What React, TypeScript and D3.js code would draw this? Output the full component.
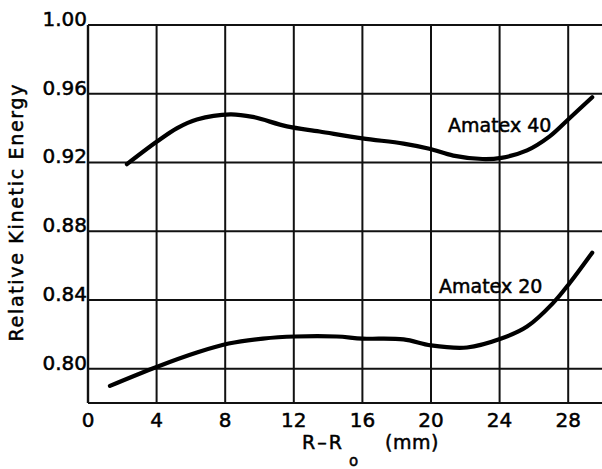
import React from "react";
import * as d3 from "d3";

const xTicks = [0, 4, 8, 12, 16, 20, 24, 28];
const yTicks = [0.8, 0.84, 0.88, 0.92, 0.96, 1.0];
const yTickLabels = ["0.80", "0.84", "0.88", "0.92", "0.96", "1.00"];

const a40X = [2.27, 4, 5.2, 6.35, 8.3, 9.6, 11.6, 13.5, 16, 18.4, 19.9, 21.3, 23, 24.1, 25.6, 26.9, 28, 29.4];
const a40Y = [0.919, 0.932, 0.94, 0.945, 0.948, 0.9465, 0.941, 0.938, 0.934, 0.931, 0.928, 0.924, 0.922, 0.9227, 0.927, 0.935, 0.945, 0.958];

const a20X = [1.28, 4, 6.35, 8.2, 10.2, 12.1, 14.5, 16, 18.4, 20, 22.1, 24.1, 25.6, 27.1, 28.1, 29.4];
const a20Y = [0.79, 0.801, 0.8094, 0.8146, 0.8175, 0.8187, 0.8187, 0.8175, 0.817, 0.8135, 0.8123, 0.8175, 0.8245, 0.838, 0.85, 0.8675];

const W = 602;
const H = 469;
const FONT = "'DejaVu Sans', sans-serif";

export default function App() {
  const x = d3.scaleLinear().domain([0, 30]).range([88, 602.5]);
  const y = d3.scaleLinear().domain([0.78, 1.0]).range([403, 25]);
  const line = d3
    .line<[number, number]>()
    .x((d) => x(d[0]))
    .y((d) => y(d[1]))
    .curve(d3.curveCatmullRom.alpha(0.5));
  const d40 = line(a40X.map((v, i) => [v, a40Y[i]]) as [number, number][]) || "";
  const d20 = line(a20X.map((v, i) => [v, a20Y[i]]) as [number, number][]) || "";

  const txt = { fill: "#000", stroke: "#000", strokeWidth: 0.5 };

  return (
    <svg
      width={W}
      height={H}
      style={{ position: "absolute", left: 0, top: 0, background: "#fff" }}
      fontFamily={FONT}
    >
      <rect x={0} y={0} width={W} height={H} fill="#fff" />
      {xTicks.map((t) => (
        <line key={"vx" + t} x1={x(t)} x2={x(t)} y1={y(1.0)} y2={y(0.78)} stroke="#111" strokeWidth={2} />
      ))}
      {yTicks.map((t) => (
        <line key={"hy" + t} x1={x(0)} x2={W} y1={y(t)} y2={y(t)} stroke="#111" strokeWidth={2} />
      ))}
      <line x1={x(0)} x2={W} y1={y(0.78)} y2={y(0.78)} stroke="#111" strokeWidth={2.2} />
      <line x1={x(0)} x2={x(0)} y1={y(1.0)} y2={y(0.78)} stroke="#111" strokeWidth={2.4} />

      <path d={d40} fill="none" stroke="#000" strokeWidth={4.2} strokeLinecap="round" />
      <path d={d20} fill="none" stroke="#000" strokeWidth={4.2} strokeLinecap="round" />

      {yTicks.map((t, i) => (
        <text key={"yl" + t} x={87} y={y(t) + 1} textAnchor="end" fontSize={20} {...txt}>
          {yTickLabels[i]}
        </text>
      ))}
      {xTicks.map((t) => (
        <text key={"xl" + t} x={x(t)} y={427} textAnchor="middle" fontSize={20} {...txt}>
          {String(t)}
        </text>
      ))}

      <text x={448} y={132} fontSize={19} {...txt}>Amatex 40</text>
      <text x={439} y={293} fontSize={19} {...txt}>Amatex 20</text>

      <text
        transform="translate(23,213) rotate(-90)"
        textAnchor="middle"
        fontSize={19}
        textLength={257}
        lengthAdjust="spacing"
        {...txt}
      >
        Relative Kinetic Energy
      </text>
      <text x={302} y={449} fontSize={19} letterSpacing={2} {...txt}>R–R</text>
      <text x={349} y={466} fontSize={15} {...txt}>o</text>
      <text x={385} y={449} fontSize={19} letterSpacing={0.5} {...txt}>(mm)</text>
    </svg>
  );
}
